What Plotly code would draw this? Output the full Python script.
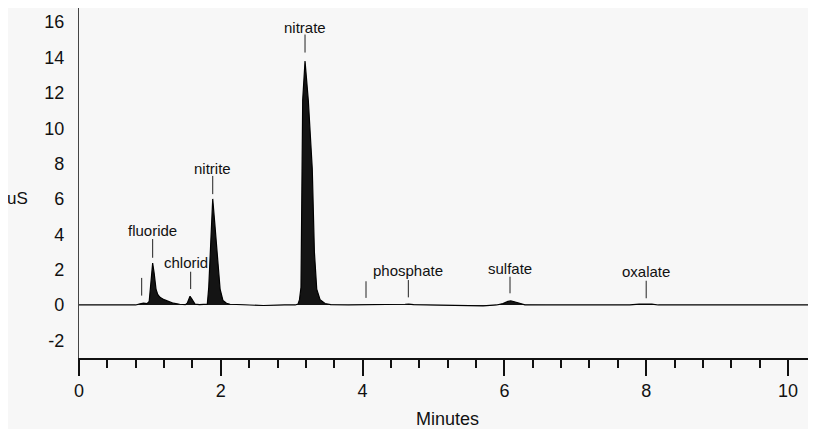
import plotly.graph_objects as go

# Chromatogram trace (minutes, uS)
time_min = [0.0, 0.4, 0.8, 0.86, 0.91, 0.96, 0.99, 1.015, 1.039, 1.06, 1.086, 1.11, 1.142, 1.2, 1.27,
            1.33, 1.42, 1.5, 1.527, 1.55, 1.566, 1.59, 1.636, 1.7, 1.78, 1.81, 1.83, 1.848, 1.866,
            1.886, 1.914, 1.951, 1.99, 2.031, 2.08, 2.13, 2.3, 2.6, 2.9, 3.05, 3.089, 3.11, 3.131,
            3.141, 3.155, 3.188, 3.234, 3.29, 3.32, 3.353, 3.4, 3.47, 3.55, 3.8, 4.2, 4.5, 4.6,
            4.65, 4.72, 4.9, 5.3, 5.5, 5.7, 5.89, 5.98, 6.05, 6.09, 6.14, 6.22, 6.29, 6.6, 7.0,
            7.5, 7.77, 7.9, 8.0, 8.08, 8.17, 8.6, 9.0, 9.3, 9.5, 9.8, 10.4]
signal_us = [0.0, -0.02, 0.0, 0.06, 0.1, 0.08, 0.2, 1.3, 2.37, 1.8, 0.9, 0.6, 0.43, 0.3, 0.18,
             0.1, 0.04, 0.02, 0.1, 0.35, 0.49, 0.35, 0.05, 0.02, 0.02, 0.05, 1.0, 2.8, 4.67,
             6.0, 4.67, 2.8, 0.9, 0.25, 0.1, 0.04, 0.0, -0.03, 0.0, 0.0, 0.05, 0.3, 1.0,
             7.7, 11.6, 13.8, 11.6, 7.7, 3.0, 0.9, 0.3, 0.08, 0.02, 0.0, 0.0, 0.0, 0.04,
             0.05, 0.02, 0.0, -0.02, -0.06, -0.05, 0.0, 0.08, 0.2, 0.23, 0.18, 0.07, 0.01, 0.0, 0.0,
             0.0, 0.0, 0.05, 0.07, 0.05, 0.0, 0.0, 0.0, -0.04, -0.02, 0.0, 0.0]

# Peak labels
label_names = ["fluoride", "chlorid", "nitrite", "nitrate", "phosphate", "sulfate", "oxalate"]
label_x = [1.039, 1.505, 1.886, 3.188, 4.645, 6.079, 8.0]
label_y = [4.2, 2.41, 7.74, 15.69, 1.94, 2.09, 1.88]

# Peak marker ticks
marker_x = [0.884, 1.039, 1.575, 1.886, 3.188, 4.048, 4.645, 6.079, 8.0]
marker_top = [1.53, 3.73, 1.88, 7.3, 15.3, 1.34, 1.41, 1.6, 1.37]
marker_bottom = [0.53, 2.67, 0.9, 6.27, 14.28, 0.4, 0.43, 0.66, 0.38]

y_ticks = [-2, 0, 2, 4, 6, 8, 10, 12, 14, 16]
x_ticks = [0, 2, 4, 6, 8, 10]

FONT = "Liberation Sans, Arial, sans-serif"
BG = "#f7f7f7"

fig = go.Figure()
fig.add_trace(go.Scatter(x=time_min, y=signal_us, mode="lines",
                         line=dict(color="#000000", width=1.2),
                         fill="tozeroy", fillcolor="#141414", hoverinfo="skip"))

mx, my = [], []
for t, a, b in zip(marker_x, marker_top, marker_bottom):
    mx += [t, t, None]
    my += [b, a, None]
fig.add_trace(go.Scatter(x=mx, y=my, mode="lines", line=dict(color="#222222", width=1),
                         hoverinfo="skip"))

for name, x, y in zip(label_names, label_x, label_y):
    fig.add_annotation(x=x, y=y, text=name, showarrow=False, xanchor="center", yanchor="middle",
                       font=dict(family=FONT, size=15, color="#111111"))

fig.add_annotation(xref="paper", yref="y", x=0.0, xshift=-62, y=6, text="uS", showarrow=False,
                   xanchor="center", yanchor="middle",
                   font=dict(family=FONT, size=17, color="#111111"))

fig.update_layout(
    width=808, height=421,
    margin=dict(l=71, r=0, t=0, b=71),
    paper_bgcolor=BG, plot_bgcolor=BG,
    showlegend=False,
    xaxis=dict(range=[0, 10.395], tickvals=x_ticks, ticktext=[str(v) for v in x_ticks],
               ticks="outside", ticklen=16, tickwidth=1.5, tickcolor="#111111",
               showline=True, linecolor="#111111", linewidth=1.5, showgrid=False, zeroline=False,
               tickfont=dict(family=FONT, size=18, color="#111111"),
               minor=dict(dtick=0.4, tick0=0, ticks="outside", ticklen=8, tickwidth=1.5,
                          tickcolor="#111111", showgrid=False),
               title=dict(text="Minutes", font=dict(family=FONT, size=18, color="#111111"),
                          standoff=12)),
    yaxis=dict(range=[-3, 16.8], tickvals=y_ticks, ticktext=[str(v) for v in y_ticks],
               ticks="", showline=True, linecolor="#444444", linewidth=1.2,
               showgrid=False, zeroline=False, ticklabelstandoff=10,
               tickfont=dict(family=FONT, size=18, color="#111111")),
)

fig.write_html("out.html")
